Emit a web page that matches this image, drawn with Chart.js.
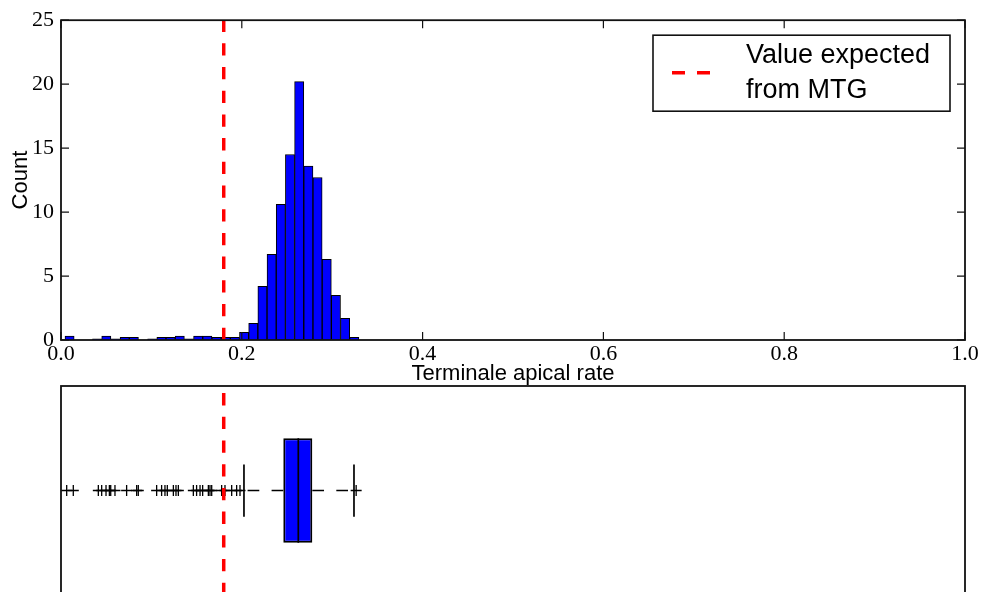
<!DOCTYPE html>
<html>
<head>
<meta charset="utf-8">
<script src="https://cdn.jsdelivr.net/npm/chart.js@4.4.1/dist/chart.umd.min.js"></script>
<style>
  html, body { margin: 0; padding: 0; background: #fff; overflow: hidden; width: 981px; height: 592px; }
  #hist { position: absolute; left: 0; top: 0; }
  #box { position: absolute; left: 0; top: 376px; }
</style>
</head>
<body>
<canvas id="hist" width="981" height="386"></canvas>
<canvas id="box" width="981" height="220"></canvas>
<script>
// Histogram of the terminal apical rate (normalised counts, 32 equal bins)
const binStart = 0.0044;
const binWidth = 0.01016;
const binHeights = [0.3, 0, 0, 0.1, 0.3, 0.1, 0.2, 0.2, 0, 0.1, 0.2, 0.2, 0.3, 0.1, 0.3, 0.3,
                    0.2, 0.2, 0.2, 0.6, 1.3, 4.2, 6.7, 10.6, 14.5, 20.2, 13.6, 12.7, 6.3, 3.5, 1.7, 0.2];
const xTicks = [0, 0.2, 0.4, 0.6, 0.8, 1.0];
const yTicks = [0, 5, 10, 15, 20, 25];

// Reference value computed from the MTG
const expectedMTG = 0.18;
const legendLines = ['Value expected', 'from MTG'];

// Box plot summary of the same sample
const boxQ1 = 0.2459;
const boxMedian = 0.2625;
const boxQ3 = 0.2780;
const whiskerLow = 0.2024;
const whiskerHigh = 0.3241;
const outliers = [0.0063, 0.0136, 0.0413, 0.0450, 0.0498, 0.0535, 0.0550, 0.0597, 0.0726,
                  0.0837, 0.0855, 0.1058, 0.1113, 0.1150, 0.1176, 0.1243, 0.1272, 0.1298,
                  0.1464, 0.1500, 0.1538, 0.1567, 0.1630, 0.1648, 0.1667, 0.1777, 0.1814,
                  0.1888, 0.1943, 0.1980, 0.3265];

const BLUE = '#0000ff';
const RED = '#ff0000';
const INK = '#000000';
const serif = 'Liberation Serif';
const sans = 'Liberation Sans';

Chart.defaults.animation = false;

// vertical dashed line at the MTG value, dash pattern starting from the bottom
const mtgLine = {
  id: 'mtgLine',
  afterDatasetsDraw(chart) {
    const { ctx, chartArea: a, scales } = chart;
    const x = scales.x.getPixelForValue(expectedMTG);
    ctx.save();
    ctx.beginPath();
    ctx.rect(a.left, a.top, a.right - a.left, a.bottom - a.top);
    ctx.clip();
    ctx.strokeStyle = RED;
    ctx.lineWidth = 3.5;
    ctx.setLineDash([12.3, 11.4]);
    ctx.beginPath();
    ctx.moveTo(x, a.bottom);
    ctx.lineTo(x, a.top);
    ctx.stroke();
    ctx.restore();
  }
};

// axes frame with inward tick marks on all four sides
const frame = {
  id: 'frame',
  afterDraw(chart, args, opts) {
    const { ctx, chartArea: a, scales } = chart;
    ctx.save();
    ctx.strokeStyle = '#111';
    if (opts.ticks) {
      const len = 8;
      ctx.beginPath();
      scales.x.ticks.forEach(t => {
        const x = scales.x.getPixelForValue(t.value);
        ctx.moveTo(x, a.bottom); ctx.lineTo(x, a.bottom - len);
        ctx.moveTo(x, a.top); ctx.lineTo(x, a.top + len);
      });
      scales.y.ticks.forEach(t => {
        const y = scales.y.getPixelForValue(t.value);
        ctx.moveTo(a.left, y); ctx.lineTo(a.left + len, y);
        ctx.moveTo(a.right, y); ctx.lineTo(a.right - len, y);
      });
      ctx.lineWidth = 1.2;
      ctx.stroke();
    }
    ctx.lineWidth = 1.8;
    ctx.strokeRect(a.left, a.top, a.right - a.left, a.bottom - a.top);
    ctx.restore();
  }
};

// legend box in the upper right corner
const legendBox = {
  id: 'legendBox',
  afterDraw(chart) {
    const { ctx, chartArea: a } = chart;
    const w = 297, h = 76;
    const x0 = a.right - 15 - w, y0 = a.top + 15;
    ctx.save();
    ctx.fillStyle = '#fff';
    ctx.fillRect(x0, y0, w, h);
    ctx.strokeStyle = '#111';
    ctx.lineWidth = 1.6;
    ctx.strokeRect(x0, y0, w, h);
    ctx.strokeStyle = RED;
    ctx.lineWidth = 3.5;
    ctx.setLineDash([13, 12]);
    ctx.beginPath();
    ctx.moveTo(x0 + 19, y0 + 37.5);
    ctx.lineTo(x0 + 57, y0 + 37.5);
    ctx.stroke();
    ctx.fillStyle = INK;
    ctx.font = '27px "' + sans + '"';
    ctx.textBaseline = 'middle';
    ctx.textAlign = 'left';
    legendLines.forEach((s, i) => ctx.fillText(s, x0 + 93, y0 + 20 + i * 35));
    ctx.restore();
  }
};

new Chart(document.getElementById('hist'), {
  type: 'bar',
  data: {
    datasets: [{
      data: binHeights.map((h, i) => ({ x: binStart + (i + 0.5) * binWidth, y: h })),
      backgroundColor: BLUE,
      borderColor: INK,
      borderWidth: 1,
      barPercentage: 1,
      categoryPercentage: 1,
      borderSkipped: 'start'
    }]
  },
  options: {
    responsive: false,
    layout: { autoPadding: false, padding: { left: 0, right: 16, top: 20, bottom: 0 } },
    scales: {
      x: {
        type: 'linear', min: 0, max: 1, offset: false,
        afterBuildTicks: s => { s.ticks = xTicks.map(v => ({ value: v })); },
        ticks: { callback: v => v.toFixed(1), font: { family: serif, size: 22 }, color: INK,
                 padding: 1, maxRotation: 0, autoSkip: false },
        grid: { display: false, drawTicks: false, offset: false },
        border: { display: false },
        title: { display: true, text: 'Terminale apical rate', color: INK,
                 font: { family: sans, size: 22, lineHeight: 1.1 }, padding: 0 },
        afterFit: s => { s.height = 46; }
      },
      y: {
        type: 'linear', min: 0, max: 25,
        afterBuildTicks: s => { s.ticks = yTicks.map(v => ({ value: v })); },
        ticks: { font: { family: serif, size: 22 }, color: INK, padding: 7 },
        grid: { display: false, drawTicks: false },
        border: { display: false },
        title: { display: true, text: 'Count', color: INK,
                 font: { family: sans, size: 22, lineHeight: 1.2 }, padding: { top: 8, bottom: 0 } },
        afterFit: s => { s.width = 61; }
      }
    },
    plugins: { legend: { display: false }, tooltip: { enabled: false }, frame: { ticks: true } }
  },
  plugins: [mtgLine, frame, legendBox]
});

// horizontal box plot sharing the same x range
const line = (pts, extra) => Object.assign({
  type: 'line', data: pts, borderColor: INK, borderWidth: 1.7,
  pointRadius: 0, fill: false, showLine: true
}, extra || {});

new Chart(document.getElementById('box'), {
  type: 'bar',
  data: {
    datasets: [
      line([{ x: boxQ1, y: 1 }, { x: whiskerLow, y: 1 }], { borderDash: [11.7, 12.3], borderWidth: 1.5 }),
      line([{ x: boxQ3, y: 1 }, { x: whiskerHigh, y: 1 }], { borderDash: [11.7, 12.3], borderWidth: 1.5 }),
      line([{ x: whiskerLow, y: 0.875 }, { x: whiskerLow, y: 1.125 }]),
      line([{ x: whiskerHigh, y: 0.875 }, { x: whiskerHigh, y: 1.125 }]),
      {
        type: 'scatter',
        data: outliers.map(v => ({ x: v, y: 1 })),
        pointStyle: 'cross', pointRadius: 5.5, borderColor: INK, borderWidth: 1.3,
        backgroundColor: INK
      },
      {
        type: 'bar',
        indexAxis: 'y',
        data: [{ y: 1, x: [boxQ1, boxQ3] }],
        backgroundColor: BLUE,
        borderColor: INK,
        borderWidth: 2,
        borderSkipped: false,
        barPercentage: 0.5,
        categoryPercentage: 1,
        order: -1
      },
      line([{ x: boxMedian, y: 0.75 }, { x: boxMedian, y: 1.25 }], { order: -2 })
    ]
  },
  options: {
    responsive: false,
    layout: { autoPadding: false, padding: { left: 61, right: 16, top: 10, bottom: 1 } },
    scales: {
      x: { type: 'linear', min: 0, max: 1, display: false, offset: false,
           afterBuildTicks: s => { s.ticks = xTicks.map(v => ({ value: v })); } },
      y: { type: 'linear', min: 0.5, max: 1.5, display: false, offset: false,
           afterBuildTicks: s => { s.ticks = [{ value: 0.5 }, { value: 1.5 }]; } }
    },
    plugins: { legend: { display: false }, tooltip: { enabled: false }, frame: { ticks: false } }
  },
  plugins: [mtgLine, frame]
});
</script>
</body>
</html>
